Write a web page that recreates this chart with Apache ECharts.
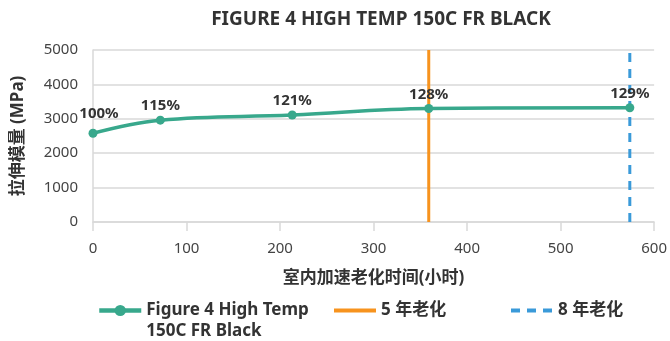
<!DOCTYPE html>
<html>
<head>
<meta charset="utf-8">
<script src="https://cdn.jsdelivr.net/npm/echarts@6/dist/echarts.min.js"></script>
<style>
  html, body { margin: 0; padding: 0; background: #fff; }
  #main { width: 670px; height: 341px; }
</style>
</head>
<body>
<div id="main"></div>
<script>
// 数据
var hours = [0, 72, 213, 359, 574];
var modulus = [2580, 2960, 3110, 3300, 3320];
var retention = ['100%', '115%', '121%', '128%', '129%'];
var year5 = 359;   // 5 年老化
var year8 = 574;   // 8 年老化
var seriesName = 'Figure 4 High Temp 150C FR Black';

var font = 'Noto Sans, Noto Sans CJK SC, sans-serif';
var green = '#38a88c', orange = '#f7931e', blue = '#3a9ad9';

var mainData = hours.map(function (h, i) {
  var item = { value: [h, modulus[i]] };
  if (i === 0) item.label = { distance: 8, offset: [6, 0] };
  return item;
});

var legendText = { fontSize: 17, fontWeight: 'bold', color: '#333', lineHeight: 21, fontFamily: font };
var noSymbol = { color: 'rgba(0,0,0,0)', borderWidth: 0 };

var myChar = echarts.init(document.getElementById('main'));
var myOption = {
  animation: false,
  textStyle: { fontFamily: font },
  title: {
    text: 'FIGURE 4 HIGH TEMP 150C FR BLACK',
    left: 376,
    top: 5,
    textAlign: 'center',
    textStyle: { fontSize: 19, fontWeight: 'bold', color: '#333', fontFamily: font }
  },
  grid: { left: 93, right: 13, top: 50, bottom: 119 },
  legend: [
    {
      data: [seriesName], left: 92, top: 274, itemWidth: 42, itemHeight: 14,
      formatter: function () { return ' \nFigure 4 High Temp\n150C FR Black'; },
      lineStyle: { width: 4.5 },
      textStyle: legendText
    },
    {
      data: ['5 年老化'], left: 327, top: 295, itemWidth: 42, itemHeight: 14,
      itemStyle: noSymbol, lineStyle: { width: 4 }, textStyle: legendText
    },
    {
      data: ['8 年老化'], left: 504, top: 295, itemWidth: 42, itemHeight: 14,
      itemStyle: noSymbol, lineStyle: { width: 4 }, textStyle: legendText
    }
  ],
  xAxis: {
    type: 'value',
    min: 0, max: 600, interval: 100,
    name: '室内加速老化时间(小时)',
    nameLocation: 'middle',
    nameGap: 48,
    nameTextStyle: { fontSize: 17, fontWeight: 'bold', color: '#333' },
    axisLine: { show: true, lineStyle: { color: '#d9d9d9', width: 1.5 } },
    axisTick: { show: true, length: 9, lineStyle: { color: '#d9d9d9', width: 1.5 } },
    axisLabel: { fontSize: 15, color: '#444', margin: 19 },
    splitLine: { show: false }
  },
  yAxis: {
    type: 'value',
    min: 0, max: 5000, interval: 1000,
    name: '拉伸模量 (MPa)',
    nameLocation: 'middle',
    nameGap: 66,
    nameTextStyle: { fontSize: 17, fontWeight: 'bold', color: '#333' },
    axisLine: { show: true, lineStyle: { color: '#d9d9d9', width: 1.5 } },
    axisTick: { show: false },
    axisLabel: {
      fontSize: 15, color: '#444', margin: 15,
      formatter: function (v) { return String(v); }
    },
    splitLine: { lineStyle: { color: '#d9d9d9', width: 1.5 } }
  },
  series: [
    {
      name: seriesName,
      type: 'line',
      smooth: 0.4,
      data: mainData,
      symbol: 'circle',
      symbolSize: 9,
      z: 5,
      itemStyle: { color: green },
      lineStyle: { color: green, width: 3.5 },
      label: {
        show: true, position: 'top', distance: 2,
        fontSize: 15, fontWeight: 'bold', color: '#333',
        formatter: function (p) { return retention[p.dataIndex]; }
      }
    },
    {
      name: '5 年老化',
      type: 'line',
      data: [[year5, 0], [year5, 5000]],
      symbol: 'none',
      itemStyle: { color: orange },
      lineStyle: { color: orange, width: 3 }
    },
    {
      name: '8 年老化',
      type: 'line',
      data: [[year8, 0], [year8, 5000]],
      symbol: 'none',
      itemStyle: { color: blue },
      lineStyle: { color: blue, width: 3, type: [9, 7] }
    }
  ]
};
myChar.setOption(myOption);
</script>
</body>
</html>
